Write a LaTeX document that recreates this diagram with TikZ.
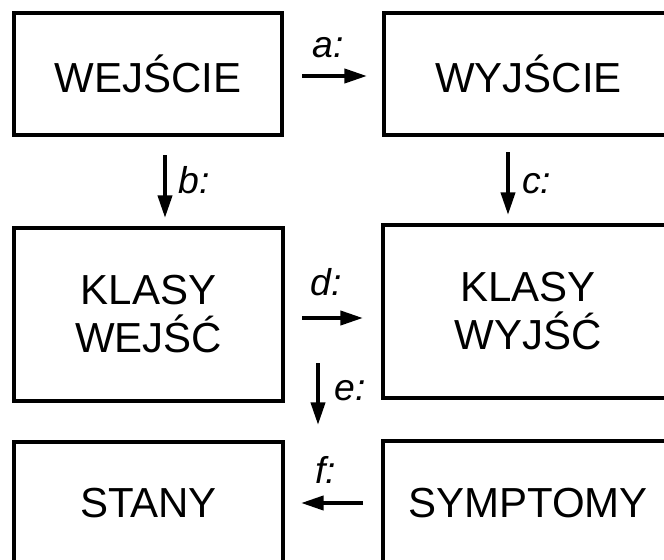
\documentclass[tikz,border=0pt]{standalone}
\usepackage{fontspec}
\setmainfont{Liberation Sans}
\usetikzlibrary{arrows.meta,calc}
\begin{document}
\begin{tikzpicture}[x=0.75pt,y=-0.75pt,
  box/.style={draw,line width=3pt,rectangle,inner sep=0pt,outer sep=0pt,
    align=center,font=\fontsize{31.5}{36}\selectfont},
  arr/.style={line width=3pt,-{Triangle[length=17pt,width=10.5pt]}},
  lbl/.style={font=\fontsize{28}{32}\selectfont\itshape,inner sep=0pt,anchor=base west}]
\useasboundingbox (0,0) rectangle (664,560);
\clip (0,0) rectangle (664,560);

% states of the model
\node[box,minimum width=201pt,minimum height=91.5pt] (we) at (148,74) {WEJŚCIE};
\node[box,minimum width=216.75pt,minimum height=91.5pt] (wy) at (528.5,74) {WYJŚCIE};
\node[box,minimum width=201.75pt,minimum height=129.75pt] (kwe) at (148.5,314.5) {KLASY\\WEJŚĆ};
\node[box,minimum width=217.5pt,minimum height=129.75pt] (kwy) at (528,311.5) {KLASY\\WYJŚĆ};
\node[box,minimum width=201.75pt,minimum height=91.5pt] (st) at (148.5,503) {STANY};
\node[box,minimum width=217.5pt,minimum height=93pt] (sy) at (528,503) {SYMPTOMY};

% mappings
\draw[arr] ($(we.east)+(20,2)$) -- ($(wy.west)+(-17,2)$);
\draw[arr] ($(we.south)+(17,20)$) -- ($(kwe.north)+(16.5,-10)$);
\draw[arr] ($(wy.south)+(-20.5,17)$) -- ($(kwy.north)+(-20,-10)$);
\draw[arr] ($(kwe.east)+(19,3.5)$) -- ($(kwy.west)+(-20,6.5)$);
\draw[arr] ($(kwe.south east)+(35,-38)$) -- ($(st.north east)+(35,-17)$);
\draw[arr] ($(sy.west)+(-20,0)$) -- ($(st.east)+(18,0)$);

% mapping labels
\node[lbl] (la) at (312,58) {a:};
\node[lbl] (lb) at (178,193) {b:};
\node[lbl] (lc) at (522,193) {c:};
\node[lbl] (ld) at (310,295) {d:};
\node[lbl] (le) at (334,400) {e:};
\node[lbl] (lf) at (315,483) {f:};
\end{tikzpicture}
\end{document}
